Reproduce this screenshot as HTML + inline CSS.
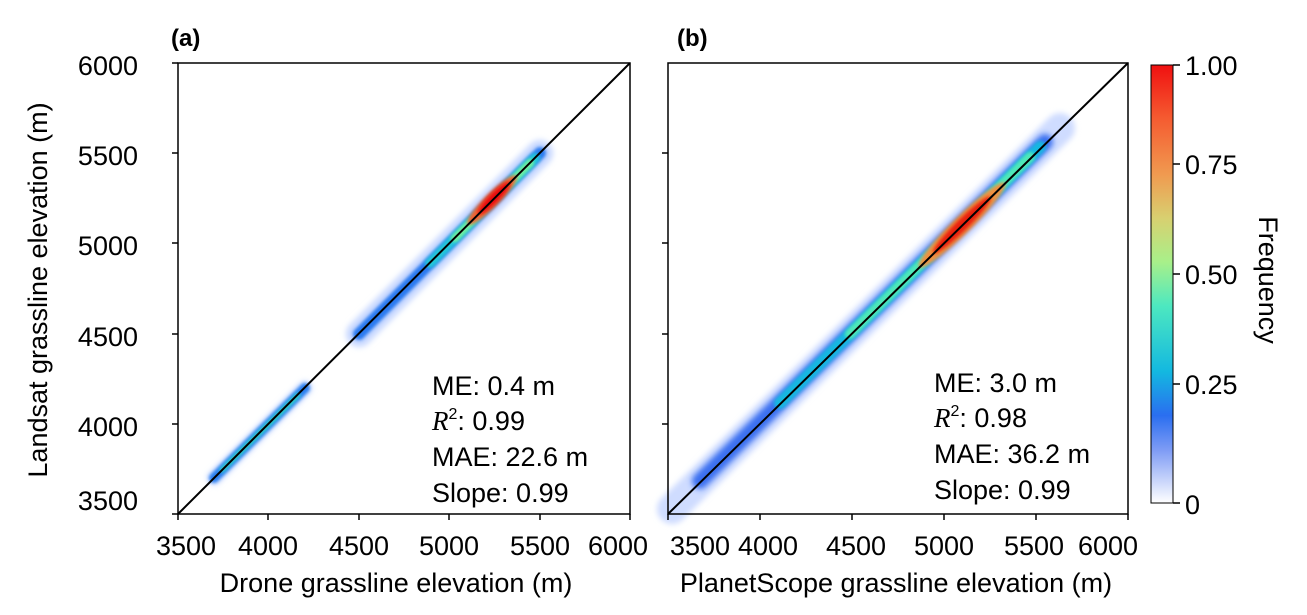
<!DOCTYPE html>
<html><head><meta charset="utf-8"><style>
html,body{margin:0;padding:0;background:#fff;}
svg{display:block;font-family:"Liberation Sans",sans-serif;}
</style></head><body>
<svg width="1307" height="615" viewBox="0 0 1307 615" xmlns="http://www.w3.org/2000/svg">
<defs>
<filter id="b4" x="-50%" y="-50%" width="200%" height="200%"><feGaussianBlur stdDeviation="3"/></filter>
<filter id="b2" x="-50%" y="-50%" width="200%" height="200%"><feGaussianBlur stdDeviation="1.5"/></filter>
<linearGradient id="cb" x1="0" y1="1" x2="0" y2="0">
<stop offset="0" stop-color="#ffffff"/>
<stop offset="0.12" stop-color="#7f9cf5"/>
<stop offset="0.2" stop-color="#2a6ef0"/>
<stop offset="0.3" stop-color="#13b8e0"/>
<stop offset="0.45" stop-color="#4de8c0"/>
<stop offset="0.55" stop-color="#a8f08a"/>
<stop offset="0.65" stop-color="#d8d070"/>
<stop offset="0.75" stop-color="#f09a50"/>
<stop offset="0.88" stop-color="#f55a30"/>
<stop offset="1" stop-color="#f01010"/>
</linearGradient>
</defs>

<!-- Panel a density -->
<g stroke-linecap="round" fill="none">
<line x1="214" y1="478" x2="305" y2="388" stroke="#c8d8ff" stroke-width="14" filter="url(#b4)"/>
<line x1="214" y1="478" x2="305" y2="388" stroke="#2a80f0" stroke-width="10" filter="url(#b2)"/>
<line x1="222" y1="470" x2="298" y2="395" stroke="#30d8c8" stroke-width="5" filter="url(#b2)"/>
<line x1="359" y1="334" x2="540" y2="153" stroke="#c8d8ff" stroke-width="26" filter="url(#b4)"/>
<line x1="359" y1="334" x2="540" y2="153" stroke="#2a7af0" stroke-width="12" filter="url(#b2)"/>
<line x1="430" y1="263" x2="535" y2="158" stroke="#20c8d8" stroke-width="10" filter="url(#b2)"/>
<line x1="455" y1="238" x2="530" y2="163" stroke="#70f0a0" stroke-width="8" filter="url(#b2)"/>
<ellipse cx="492" cy="200" rx="34" ry="7" transform="rotate(-44.9 492 200)" fill="#f06030" filter="url(#b2)"/>
<ellipse cx="494" cy="198" rx="22" ry="5" transform="rotate(-44.9 494 198)" fill="#e81010" filter="url(#b2)"/>
</g>
<!-- Panel b density -->
<g stroke-linecap="round" fill="none">
<line x1="672" y1="509" x2="1060" y2="128" stroke="#cfdcff" stroke-width="30" filter="url(#b4)"/>
<line x1="700" y1="481" x2="1045" y2="142" stroke="#3a70f0" stroke-width="16" filter="url(#b4)"/>
<line x1="780" y1="403" x2="1040" y2="147" stroke="#18b8e0" stroke-width="12" filter="url(#b2)"/>
<line x1="850" y1="334" x2="1030" y2="157" stroke="#50e8b8" stroke-width="10" filter="url(#b2)"/>
<ellipse cx="962" cy="225" rx="60" ry="9" transform="rotate(-44.4 962 225)" fill="#f09040" filter="url(#b2)"/>
<ellipse cx="962" cy="225" rx="40" ry="6" transform="rotate(-44.4 962 225)" fill="#e82010" filter="url(#b2)"/>
</g>

<!-- Panel a axes -->
<g stroke="#000" stroke-width="1.5" fill="none">
<rect x="178" y="63" width="452" height="451"/>
<line x1="178" y1="514" x2="630" y2="63" stroke-width="2"/>
<line x1="178" y1="514" x2="178" y2="520"/><line x1="268" y1="514" x2="268" y2="520"/><line x1="359" y1="514" x2="359" y2="520"/><line x1="449" y1="514" x2="449" y2="520"/><line x1="540" y1="514" x2="540" y2="520"/><line x1="630" y1="514" x2="630" y2="520"/>
<line x1="172" y1="63" x2="178" y2="63"/><line x1="172" y1="153" x2="178" y2="153"/><line x1="172" y1="243" x2="178" y2="243"/><line x1="172" y1="334" x2="178" y2="334"/><line x1="172" y1="424" x2="178" y2="424"/><line x1="172" y1="514" x2="178" y2="514"/>
</g>
<!-- Panel b axes -->
<g stroke="#000" stroke-width="1.5" fill="none">
<rect x="668" y="63" width="460" height="451"/>
<line x1="668" y1="514" x2="1128" y2="63" stroke-width="2"/>
<line x1="668" y1="514" x2="668" y2="520"/><line x1="760" y1="514" x2="760" y2="520"/><line x1="852" y1="514" x2="852" y2="520"/><line x1="944" y1="514" x2="944" y2="520"/><line x1="1036" y1="514" x2="1036" y2="520"/><line x1="1128" y1="514" x2="1128" y2="520"/>
<line x1="662" y1="153" x2="668" y2="153"/><line x1="662" y1="243" x2="668" y2="243"/><line x1="662" y1="334" x2="668" y2="334"/><line x1="662" y1="424" x2="668" y2="424"/>
</g>

<g font-size="27" fill="#000">
<text x="171" y="46" font-weight="bold" font-size="24">(a)</text>
<text x="677" y="46" font-weight="bold" font-size="24">(b)</text>
<g text-anchor="end">
<text x="138" y="75">6000</text><text x="138" y="165">5500</text><text x="138" y="255">5000</text><text x="138" y="346">4500</text><text x="138" y="436">4000</text><text x="138" y="510">3500</text>
</g>
<g text-anchor="middle">
<text x="186" y="555">3500</text><text x="268" y="555">4000</text><text x="359" y="555">4500</text><text x="449" y="555">5000</text><text x="540" y="555">5500</text><text x="618" y="555">6000</text>
<text x="700" y="555">3500</text><text x="768" y="555">4000</text><text x="856" y="555">4500</text><text x="944" y="555">5000</text><text x="1034" y="555">5500</text><text x="1108" y="555">6000</text>
<text x="396" y="592">Drone grassline elevation (m)</text>
<text x="896" y="592">PlanetScope grassline elevation (m)</text>
</g>
<text transform="translate(47 290) rotate(-90)" text-anchor="middle">Landsat grassline elevation (m)</text>
<text x="432" y="395">ME: 0.4 m</text>
<text x="432" y="430"><tspan font-family="Liberation Serif" font-style="italic">R</tspan><tspan font-size="16" dy="-11">2</tspan><tspan dy="11">: 0.99</tspan></text>
<text x="432" y="466">MAE: 22.6 m</text>
<text x="432" y="502">Slope: 0.99</text>
<text x="934" y="392">ME: 3.0 m</text>
<text x="934" y="427"><tspan font-family="Liberation Serif" font-style="italic">R</tspan><tspan font-size="16" dy="-11">2</tspan><tspan dy="11">:  0.98</tspan></text>
<text x="934" y="463">MAE: 36.2 m</text>
<text x="934" y="499">Slope: 0.99</text>
<!-- colorbar -->
<rect x="1151" y="65" width="22" height="438" fill="url(#cb)" stroke="#000" stroke-width="1"/>
<g stroke="#000" stroke-width="1.5">
<line x1="1173" y1="65" x2="1180" y2="65"/><line x1="1173" y1="164" x2="1180" y2="164"/><line x1="1173" y1="274" x2="1180" y2="274"/><line x1="1173" y1="384" x2="1180" y2="384"/><line x1="1173" y1="503" x2="1180" y2="503"/>
</g>
<text x="1185" y="75">1.00</text><text x="1185" y="174">0.75</text><text x="1185" y="284">0.50</text><text x="1185" y="394">0.25</text><text x="1185" y="514">0</text>
<text transform="translate(1259 280) rotate(90)" text-anchor="middle">Frequency</text>
</g>
</svg>
</body></html>
